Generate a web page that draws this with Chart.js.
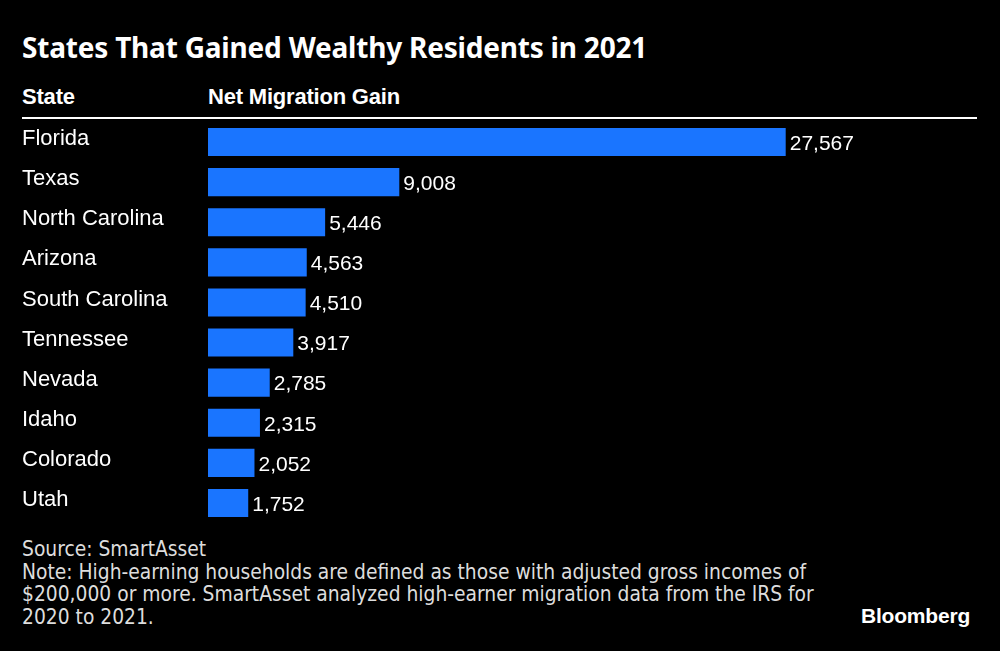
<!DOCTYPE html>
<html>
<head>
<meta charset="utf-8">
<script src="https://cdn.jsdelivr.net/npm/chart.js@4/dist/chart.umd.min.js"></script>
<style>
  body { margin: 0; background: #000; width: 1000px; height: 651px; overflow: hidden; position: relative; color: #fff; }
  #title { position: absolute; left: 22px; top: 28px; font: bold 28px "Noto Sans", sans-serif; letter-spacing: -0.2px; }
  .head { position: absolute; top: 84px; font: bold 22px "Liberation Sans", Arial, sans-serif; letter-spacing: -0.2px; }
  #rule { position: absolute; left: 22px; top: 117px; width: 955px; height: 2px; background: #fff; }
  #wrap { position: absolute; left: 22px; top: 122px; width: 978px; height: 401px; }
  #notes { position: absolute; left: 22px; top: 538px; font: 20.8px "DejaVu Sans Condensed", sans-serif; line-height: 22.6px; color: #ddd; }
  #logo { position: absolute; left: 861px; top: 604px; font: bold 21px "Liberation Sans", Arial, sans-serif; letter-spacing: -0.2px; }
</style>
</head>
<body>
<div id="title">States That Gained Wealthy Residents in 2021</div>
<div class="head" style="left:22px">State</div>
<div class="head" style="left:208px">Net Migration Gain</div>
<div id="rule"></div>
<div id="wrap"><canvas id="myChart"></canvas></div>
<div id="notes">Source: SmartAsset<br>Note: High-earning households are defined as those with adjusted gross incomes of<br>$200,000 or more. SmartAsset analyzed high-earner migration data from the IRS for<br>2020 to 2021.</div>
<div id="logo">Bloomberg</div>
<script>
const states = ['Florida', 'Texas', 'North Carolina', 'Arizona', 'South Carolina', 'Tennessee', 'Nevada', 'Idaho', 'Colorado', 'Utah'];
const gains = [27567, 9008, 5446, 4563, 4510, 3917, 2785, 2315, 2052, 1752];
const xMin = -180;
const xMax = 37860;

// draw the numbers at the end of each bar
const valueLabels = {
    id: 'valueLabels',
    afterDatasetsDraw(chart) {
        let ctx = chart.ctx;
        let meta = chart.getDatasetMeta(0);
        ctx.save();
        ctx.fillStyle = '#fff';
        ctx.font = '21px "Liberation Sans", Arial, sans-serif';
        ctx.textBaseline = 'middle';
        meta.data.forEach((bar, i) => {
            ctx.fillText(gains[i].toLocaleString('en-US'), bar.x + 4, bar.y + 2);
        });
        ctx.restore();
    }
};

let myChart = document.getElementById('myChart').getContext('2d');
let chart = new Chart(myChart, {
    type: 'bar',
    data: {
        labels: states,
        datasets: [{
            data: gains,
            base: xMin,
            backgroundColor: '#1a75ff',
            borderWidth: 0,
            barPercentage: 0.7,
            categoryPercentage: 1
        }]
    },
    options: {
        indexAxis: 'y',
        responsive: true,
        maintainAspectRatio: false,
        animation: false,
        layout: { padding: 0 },
        plugins: { legend: { display: false }, tooltip: { enabled: false } },
        scales: {
            x: { display: false, min: xMin, max: xMax },
            y: {
                grid: { display: false },
                border: { display: false },
                ticks: {
                    color: '#fff',
                    crossAlign: 'far',
                    padding: 0,
                    labelOffset: -3,
                    font: { family: '"Liberation Sans", Arial, sans-serif', size: 22 }
                },
                afterFit(scale) {
                    scale.width = 186;
                    scale.paddingTop = 0;
                    scale.paddingBottom = 0;
                }
            }
        }
    },
    plugins: [valueLabels]
});
</script>
</body>
</html>
